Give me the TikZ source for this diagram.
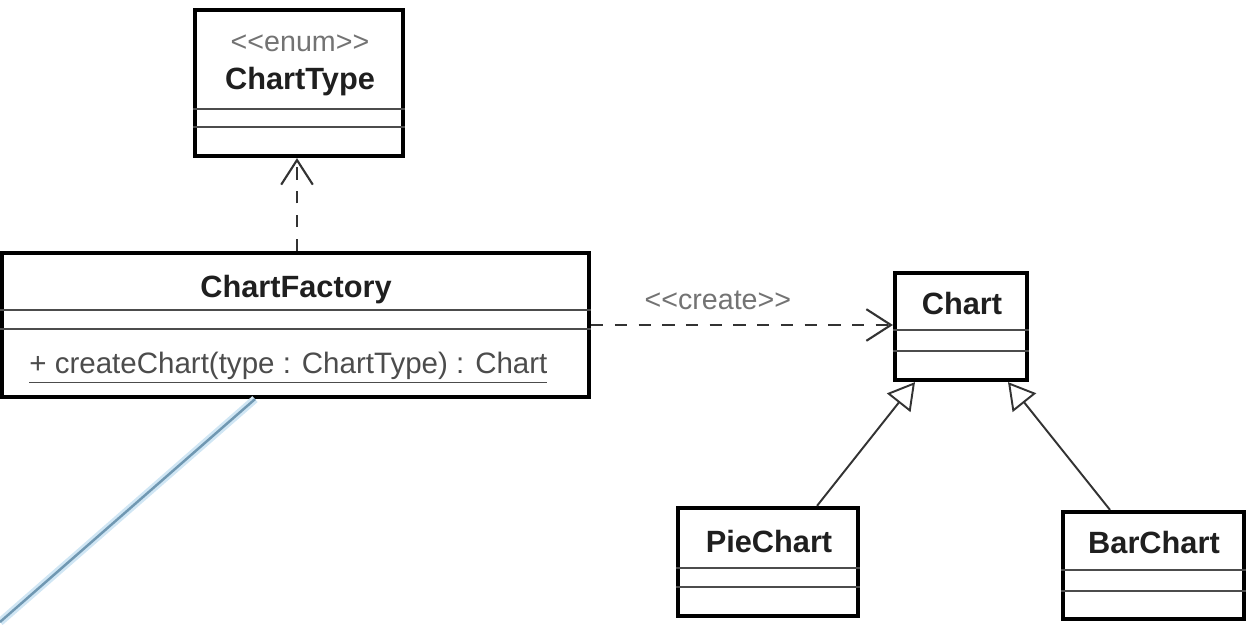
\documentclass[tikz,border=0pt]{standalone}
\usepackage{fontspec}
\setmainfont{Liberation Sans}[Ligatures=TeXOff]
\usetikzlibrary{arrows.meta,
                fit,
                quotes}
\definecolor{glow}{RGB}{208,230,244}
\definecolor{wire}{RGB}{112,152,178}

\begin{document}
\begin{tikzpicture}[x=0.02cm, y=-0.02cm,
      cls/.style = {draw, line width=2.4pt, inner sep=0pt},
    title/.style = {anchor=base, inner sep=0pt, text=black!88,
                    font=\fontsize{17.5}{20}\selectfont\bfseries},
   stereo/.style = {anchor=base, inner sep=0pt, text=black!55,
                    font=\fontsize{16.3}{19}\selectfont},
   member/.style = {anchor=base west, inner sep=0pt, text=black!70,
                    font=\fontsize{16.8}{19}\selectfont},
      sep/.style = {line width=1.1pt, black!70},
      dep/.style = {draw, line width=1.2pt, black!80, dash pattern=on 7pt off 6.5pt,
                    -{Straight Barb[length=14pt, width=18pt]}},
      inh/.style = {draw, line width=1.1pt, black!80,
                    -{Triangle[open, length=15pt, width=17pt]}},
every edge quotes/.append style = {stereo, inner sep=0pt}
                    ]
\useasboundingbox (0,0) rectangle (1248,628);

% classes
\node[cls, fit={(195,10) (403,156)}]   (type)    {};
\node[cls, fit={(2,253) (589,397)}]    (factory) {};
\node[cls, fit={(895,273) (1027,380)}] (chart)   {};
\node[cls, fit={(678,508) (858,616)}]  (pie)     {};
\node[cls, fit={(1063,512) (1244,619)}] (bar)    {};

\node[stereo] (enum)      at (300,52)  {<<enum>>};
\node[title]  (typename)  at (300,90)  {ChartType};
\node[title]  (factname)  at (296,297) {ChartFactory};
\node[member] (create)    at (29,374)  {\underline{+ createChart(type : ChartType) : Chart}};
\node[title]  (chartname) at (962,315) {Chart};
\node[title]  (piename)   at (769,552) {PieChart};
\node[title]  (barname)   at (1154,553) {BarChart};

% compartments
\draw[sep] (type.west |- 0,109) -- (type.east |- 0,109)
           (type.west |- 0,127) -- (type.east |- 0,127);
\draw[sep] (factory.west |- 0,310) -- (factory.east |- 0,310)
           (factory.west |- 0,329) -- (factory.east |- 0,329);
\draw[sep] (chart.west |- 0,330) -- (chart.east |- 0,330)
           (chart.west |- 0,351) -- (chart.east |- 0,351);
\draw[sep] (pie.west |- 0,568) -- (pie.east |- 0,568)
           (pie.west |- 0,587) -- (pie.east |- 0,587);
\draw[sep] (bar.west |- 0,570) -- (bar.east |- 0,570)
           (bar.west |- 0,591) -- (bar.east |- 0,591);

% relations
\draw[dep] (factory.north -| 297,0) -- (type.south -| 297,0);
\draw (factory.east) edge[dep, "<<create>>" {pos=0.42, anchor=base, yshift=9pt}] (chart.west |- factory.east);
\draw[inh] (pie.north -| 817,0) -- (chart.south -| 915,0);
\draw[inh] (bar.north -| 1110,0) -- (chart.south -| 1008,0);

% stray line
\coordinate (trail) at (0,622);
\draw[glow, line width=4.5pt] (factory.south -| 255,0) -- (trail);
\draw[wire, line width=1.4pt] (factory.south -| 255,0) -- (trail);
\end{tikzpicture}
\end{document}
